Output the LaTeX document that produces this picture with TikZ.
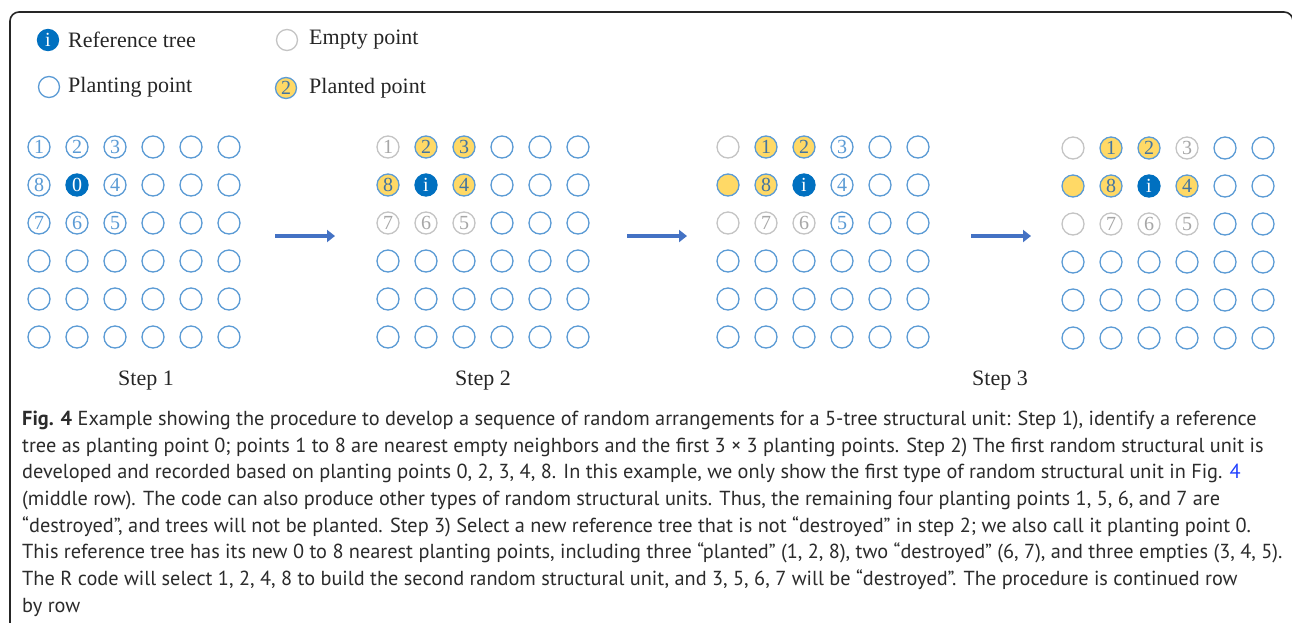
\documentclass[tikz,border=0pt]{standalone}
\usepackage{fontspec}
\setmainfont{Liberation Serif}
\newfontfamily\capfont{PT Sans}
\usetikzlibrary{arrows.meta}
\definecolor{plantblue}{HTML}{5B9BD5}
\definecolor{refblue}{HTML}{0070C0}
\definecolor{emptygray}{HTML}{C4C4C4}
\definecolor{plantedfill}{HTML}{FFD966}
\definecolor{arrowblue}{HTML}{4472C4}
\definecolor{txt}{HTML}{262626}
\definecolor{captxt}{HTML}{2B2B2B}
\definecolor{linkblue}{HTML}{1F3FFF}
\tikzset{
  pt/.style={circle, minimum size=22pt, inner sep=0pt, line width=1.3pt, font=\fontsize{20}{20}\selectfont},
  planting/.style={pt, draw=plantblue, text=plantblue},
  empty/.style={pt, draw=emptygray, text=emptygray!85!black},
  planted/.style={pt, draw=plantblue, fill=plantedfill, text=plantblue!75!black},
  reftree/.style={pt, draw=refblue, fill=refblue, text=white},
  legtext/.style={anchor=west, inner sep=0pt, text=txt, font=\fontsize{22}{22}\selectfont},
  steplabel/.style={inner sep=0pt, text=txt, font=\fontsize{22}{22}\selectfont},
  captionline/.style={anchor=west, inner sep=0pt, text=captxt, font=\capfont\fontsize{20.3}{20.3}\selectfont},
  steparrow/.style={draw=arrowblue, line width=4.4pt, -{Triangle[length=8pt,width=12pt]}},
  frame/.style={draw=black!85, line width=1.6pt, rounded corners=9pt}
}
\begin{document}
\begin{tikzpicture}[x=1pt,y=-1pt]
\useasboundingbox (0,0) rectangle (1292,622);
\clip (0,0) rectangle (1292,622);
\fill[white] (0,0) rectangle (1292,622);
\draw[frame] (10,640) -- (10,12) -- (1293,12) -- (1293,640);

% legend
\node[reftree, minimum size=21pt] (lref) at (48,40) {i};
\node[legtext] (lreft) at (68,40) {Reference tree};
\node[empty, minimum size=21pt] (lemp) at (287,40) {};
\node[legtext] (lempt) at (309,40) {Empty point};
\node[planting, minimum size=21pt] (lpla) at (49,87) {};
\node[legtext] (lplat) at (68,87) {Planting point};
\node[planted, minimum size=21pt] (lpld) at (286,88) {2};
\node[legtext] (lpldt) at (309,88) {Planted point};

% grid 1
\foreach \c/\r/\s/\l in {1/1/planting/1,2/1/planting/2,3/1/planting/3,4/1/planting/{},5/1/planting/{},6/1/planting/{},
  1/2/planting/8,2/2/reftree/0,3/2/planting/4,4/2/planting/{},5/2/planting/{},6/2/planting/{},
  1/3/planting/7,2/3/planting/6,3/3/planting/5,4/3/planting/{},5/3/planting/{},6/3/planting/{}}
  \node[\s] (ga-\r-\c) at ({39+(\c-1)*38},{147+(\r-1)*38}) {\l};
% grid 2
\foreach \c/\r/\s/\l in {1/1/empty/1,2/1/planted/2,3/1/planted/3,4/1/planting/{},5/1/planting/{},6/1/planting/{},
  1/2/planted/8,2/2/reftree/i,3/2/planted/4,4/2/planting/{},5/2/planting/{},6/2/planting/{},
  1/3/empty/7,2/3/empty/6,3/3/empty/5,4/3/planting/{},5/3/planting/{},6/3/planting/{}}
  \node[\s] (gb-\r-\c) at ({388+(\c-1)*38},{147+(\r-1)*38}) {\l};
% grid 3
\foreach \c/\r/\s/\l in {1/1/empty/{},2/1/planted/1,3/1/planted/2,4/1/planting/3,5/1/planting/{},6/1/planting/{},
  1/2/planted/{},2/2/planted/8,3/2/reftree/i,4/2/planting/4,5/2/planting/{},6/2/planting/{},
  1/3/empty/{},2/3/empty/7,3/3/empty/6,4/3/planting/5,5/3/planting/{},6/3/planting/{}}
  \node[\s] (gc-\r-\c) at ({728+(\c-1)*38},{147+(\r-1)*38}) {\l};
% grid 4
\foreach \c/\r/\s/\l in {1/1/empty/{},2/1/planted/1,3/1/planted/2,4/1/empty/3,5/1/planting/{},6/1/planting/{},
  1/2/planted/{},2/2/planted/8,3/2/reftree/i,4/2/planted/4,5/2/planting/{},6/2/planting/{},
  1/3/empty/{},2/3/empty/7,3/3/empty/6,4/3/empty/5,5/3/planting/{},6/3/planting/{}}
  \node[\s] (gd-\r-\c) at ({1073+(\c-1)*38},{148+(\r-1)*38}) {\l};
% plain rows 4-6
\foreach \r in {4,5,6}{
  \foreach \c in {1,...,6}{
    \node[planting] (ga-\r-\c) at ({39+(\c-1)*38},{147+(\r-1)*38}) {};
    \node[planting] (gb-\r-\c) at ({388+(\c-1)*38},{147+(\r-1)*38}) {};
    \node[planting] (gc-\r-\c) at ({728+(\c-1)*38},{147+(\r-1)*38}) {};
    \node[planting] (gd-\r-\c) at ({1073+(\c-1)*38},{148+(\r-1)*38}) {};
  }
}

% arrows
\coordinate (a1s) at (275,236); \coordinate (a1e) at (335,236);
\coordinate (a2s) at (627,236); \coordinate (a2e) at (687,236);
\coordinate (a3s) at (971,236); \coordinate (a3e) at (1031,236);
\draw[steparrow] (a1s) -- (a1e);
\draw[steparrow] (a2s) -- (a2e);
\draw[steparrow] (a3s) -- (a3e);

% step labels
\node[steplabel] (s1) at (146,381) {Step 1};
\node[steplabel] (s2) at (483,381) {Step 2};
\node[steplabel] (s3) at (1000,381) {Step 3};

% caption
\node[captionline] (cap1) at (22,420) {\textbf{Fig. 4} Example showing the procedure to develop a sequence of random arrangements for a 5-tree structural unit: Step 1), identify a reference};
\node[captionline] (cap2) at (22,447) {tree as planting point 0; points 1 to 8 are nearest empty neighbors and the first 3 × 3 planting points. Step 2) The first random structural unit is};
\node[captionline] (cap3) at (22,473) {developed and recorded based on planting points 0, 2, 3, 4, 8. In this example, we only show the first type of random structural unit in Fig. \textcolor{linkblue}{4}};
\node[captionline] (cap4) at (22,500) {(middle row). The code can also produce other types of random structural units. Thus, the remaining four planting points 1, 5, 6, and 7 are};
\node[captionline] (cap5) at (22,527) {“destroyed”, and trees will not be planted. Step 3) Select a new reference tree that is not “destroyed” in step 2; we also call it planting point 0.};
\node[captionline] (cap6) at (22,553) {This reference tree has its new 0 to 8 nearest planting points, including three “planted” (1, 2, 8), two “destroyed” (6, 7), and three empties (3, 4, 5).};
\node[captionline] (cap7) at (22,580) {The R code will select 1, 2, 4, 8 to build the second random structural unit, and 3, 5, 6, 7 will be “destroyed”. The procedure is continued row};
\node[captionline] (cap8) at (22,607) {by row};
\end{tikzpicture}
\end{document}
